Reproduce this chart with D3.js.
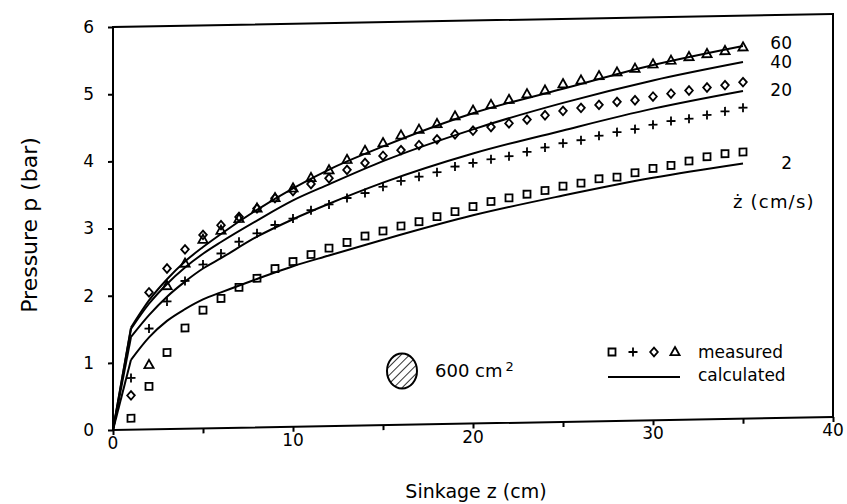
<!DOCTYPE html>
<html>
<head>
<meta charset="utf-8">
<script src="https://cdn.jsdelivr.net/npm/d3@7"></script>
<style>
  html, body { margin: 0; padding: 0; background: #fff; overflow: hidden; }
  svg { display: block; }
  text { font-family: "DejaVu Sans", sans-serif; fill: #000; }
</style>
</head>
<body>
<script>
const width = 847,
  height = 504;

// measured points, one per cm of sinkage
const sinkage = [1, 2, 3, 4, 5, 6, 7, 8, 9, 10, 11, 12, 13, 14, 15, 16, 17, 18,
  19, 20, 21, 22, 23, 24, 25, 26, 27, 28, 29, 30, 31, 32, 33, 34, 35];
const measured2 = [0.17, 0.64, 1.14, 1.50, 1.76, 1.93, 2.09, 2.22, 2.36, 2.46, 2.56, 2.65,
  2.73, 2.82, 2.89, 2.96, 3.02, 3.09, 3.16, 3.23, 3.30, 3.35, 3.40, 3.45, 3.51, 3.55,
  3.61, 3.63, 3.69, 3.75, 3.79, 3.85, 3.91, 3.95, 3.97];
const measured20 = [0.77, 1.50, 1.90, 2.20, 2.44, 2.60, 2.77, 2.89, 3.01, 3.10, 3.22, 3.30,
  3.39, 3.46, 3.55, 3.63, 3.69, 3.75, 3.83, 3.88, 3.93, 3.97, 4.03, 4.09, 4.15, 4.19,
  4.25, 4.30, 4.34, 4.40, 4.45, 4.48, 4.53, 4.58, 4.63];
const measured40 = [0.51, 2.04, 2.39, 2.67, 2.88, 3.02, 3.14, 3.26, 3.41, 3.51, 3.61, 3.69,
  3.81, 3.91, 4.01, 4.09, 4.16, 4.24, 4.31, 4.36, 4.41, 4.46, 4.51, 4.57, 4.63, 4.67,
  4.71, 4.75, 4.77, 4.82, 4.86, 4.90, 4.94, 4.97, 5.01];
const measured60 = [null, 0.96, 2.13, 2.46, 2.81, 2.94, 3.11, 3.26, 3.41, 3.55, 3.70, 3.81,
  3.96, 4.09, 4.20, 4.31, 4.39, 4.47, 4.58, 4.66, 4.74, 4.81, 4.89, 4.94, 5.03, 5.08,
  5.14, 5.19, 5.24, 5.30, 5.35, 5.40, 5.44, 5.48, 5.53];

// calculated curves
const calcSinkage = [0, 1, 2, 3, 4, 5, 6, 8, 10, 12, 15, 20, 25, 30, 35];
const calc2 = [0, 1.04, 1.37, 1.61, 1.78, 1.92, 2.02, 2.21, 2.39, 2.54, 2.76, 3.10, 3.37, 3.61, 3.80];
const calc20 = [0, 1.38, 1.70, 1.97, 2.19, 2.38, 2.53, 2.84, 3.09, 3.31, 3.61, 4.02, 4.34, 4.64, 4.88];
const calc40 = [0, 1.50, 1.87, 2.16, 2.40, 2.60, 2.77, 3.08, 3.37, 3.60, 3.93, 4.38, 4.75, 5.06, 5.31];
const calc60 = [0, 1.52, 1.92, 2.23, 2.49, 2.70, 2.89, 3.24, 3.55, 3.82, 4.15, 4.62, 4.96, 5.29, 5.55];

const speedLabels = ["2", "20", "40", "60"];
const markerNames = ["square", "plus", "diamond", "triangle"];
const xTicks = [0, 5, 10, 15, 20, 25, 30, 35, 40];
const xTickLabels = [0, 10, 20, 30, 40];
const yTicks = [0, 1, 2, 3, 4, 5, 6];

const margin = {top: 27, right: 14, bottom: 74, left: 113},
  innerWidth = width - margin.left - margin.right,
  innerHeight = height - margin.top - margin.bottom;

const x = d3.scaleLinear().domain([0, 40]).range([0, innerWidth]);
const y = d3.scaleLinear().domain([0, 6]).range([innerHeight, 0]);

// the scanned figure is slightly sheared; vertical lines stay vertical
const skewDeg = -1.03,
  shear = px => Math.tan(skewDeg * Math.PI / 180) * px;

const markerPath = {
  square: "M-3.5,-3.5H3.5V3.5H-3.5Z",
  plus: "M-4.5,0H4.5M0,-4.5V4.5",
  diamond: "M0,-4.3L3.8,0L0,4.3L-3.8,0Z",
  triangle: "M0,-5L4.6,3.2H-4.6Z"
};

const svgRoot = d3.select("body").append("svg")
  .attr("width", width)
  .attr("height", height)
  .attr("xmlns", "http://www.w3.org/2000/svg");

svgRoot.append("rect").attr("width", width).attr("height", height).attr("fill", "#fff");

const svg = svgRoot.append("g")
  .attr("transform", "translate(" + margin.left + "," + margin.top + ") skewY(" + skewDeg + ")");

svg.append("rect")
  .attr("width", innerWidth)
  .attr("height", innerHeight)
  .attr("fill", "none")
  .attr("stroke", "#000")
  .attr("stroke-width", 2);

const xAxis = svg.append("g")
  .attr("transform", "translate(0," + innerHeight + ")")
  .call(d3.axisBottom(x).tickValues(xTicks).tickSize(5).tickFormat(""));

const yAxis = svg.append("g")
  .call(d3.axisLeft(y).tickValues(yTicks).tickSize(5).tickFormat(""));

[xAxis, yAxis].forEach(a => {
  a.select(".domain").remove();
  a.selectAll("text").remove();
  a.selectAll("line").attr("stroke", "#000").attr("stroke-width", 2);
});

// tick labels kept upright, placed on the sheared axes
svgRoot.append("g").selectAll("text")
  .data(xTickLabels)
  .enter().append("text")
  .attr("x", d => margin.left + x(d))
  .attr("y", d => margin.top + innerHeight + shear(x(d)) + 19)
  .attr("text-anchor", "middle")
  .attr("font-size", 17)
  .text(d => d);

svgRoot.append("g").selectAll("text")
  .data(yTicks)
  .enter().append("text")
  .attr("x", margin.left - 19)
  .attr("y", d => margin.top + y(d))
  .attr("dy", "0.35em")
  .attr("text-anchor", "end")
  .attr("font-size", 17)
  .text(d => d);

const calcSeries = [calc2, calc20, calc40, calc60];
const measSeries = [measured2, measured20, measured40, measured60];

// straight rise to the first knee, then a smooth curve
const riseLine = d3.line()
  .x(d => x(d[0]))
  .y(d => y(d[1]));
const curveLine = d3.line()
  .x(d => x(d[0]))
  .y(d => y(d[1]))
  .curve(d3.curveMonotoneX);

calcSeries.forEach(vals => {
  const pts = vals.map((v, i) => [calcSinkage[i], v]);
  svg.append("path")
    .attr("d", riseLine(pts.slice(0, 2)))
    .attr("fill", "none").attr("stroke", "#000").attr("stroke-width", 2);
  svg.append("path")
    .attr("d", curveLine(pts.slice(1)))
    .attr("fill", "none").attr("stroke", "#000").attr("stroke-width", 2);
});

measSeries.forEach((vals, s) => {
  const pts = vals.map((v, i) => ({x: sinkage[i], y: v})).filter(p => p.y !== null);
  svg.selectAll(".m" + s)
    .data(pts)
    .enter().append("path")
    .attr("class", "m" + s)
    .attr("transform", d => "translate(" + x(d.x) + "," + y(d.y) + ")")
    .attr("d", markerPath[markerNames[s]])
    .attr("fill", "none")
    .attr("stroke", "#000")
    .attr("stroke-width", 1.8);
});

// speed labels at the end of each calculated curve
const labelShift = [0, 0, 1, -2];
const labelX = x(35) + 49;
svgRoot.append("g").selectAll("text")
  .data(calcSeries)
  .enter().append("text")
  .attr("x", margin.left + labelX)
  .attr("y", (d, i) => margin.top + y(d[d.length - 1]) + shear(labelX) + labelShift[i])
  .attr("dy", "0.35em")
  .attr("text-anchor", "end")
  .attr("font-size", 17)
  .text((d, i) => speedLabels[i]);

svgRoot.append("text")
  .attr("x", 733).attr("y", 202).attr("dy", "0.35em")
  .attr("font-size", 18)
  .attr("letter-spacing", 1.2)
  .text("ż (cm/s)");

// legend
const legend = svgRoot.append("g");
markerNames.forEach((m, i) => {
  legend.append("path")
    .attr("transform", "translate(" + (612 + i * 21) + ",352)")
    .attr("d", markerPath[m])
    .attr("fill", "none")
    .attr("stroke", "#000")
    .attr("stroke-width", 1.8);
});
legend.append("text").attr("x", 698).attr("y", 352).attr("dy", "0.35em")
  .attr("font-size", 17).text("measured");
legend.append("line").attr("x1", 608).attr("x2", 680).attr("y1", 377).attr("y2", 377)
  .attr("stroke", "#000").attr("stroke-width", 2);
legend.append("text").attr("x", 698).attr("y", 375).attr("dy", "0.35em")
  .attr("font-size", 17).text("calculated");

// plate area symbol
const defs = svgRoot.append("defs");
defs.append("pattern")
  .attr("id", "hatch")
  .attr("patternUnits", "userSpaceOnUse")
  .attr("width", 6).attr("height", 6)
  .attr("patternTransform", "rotate(45)")
  .append("line")
  .attr("x1", 0).attr("y1", 0).attr("x2", 0).attr("y2", 6)
  .attr("stroke", "#000").attr("stroke-width", 1.6);

legend.append("ellipse")
  .attr("cx", 402).attr("cy", 371).attr("rx", 15).attr("ry", 17.5)
  .attr("fill", "url(#hatch)")
  .attr("stroke", "#000").attr("stroke-width", 2);
const area = legend.append("text").attr("x", 435).attr("y", 371).attr("dy", "0.35em")
  .attr("font-size", 18);
area.append("tspan").text("600 cm");
area.append("tspan").attr("dy", "-0.45em").attr("dx", 3).attr("font-size", 13).text("2");

// axis titles
svgRoot.append("text")
  .attr("x", 476).attr("y", 491).attr("dy", "0.35em")
  .attr("text-anchor", "middle")
  .attr("font-size", 19)
  .text("Sinkage z (cm)");

svgRoot.append("text")
  .attr("transform", "translate(29,225) rotate(-90)")
  .attr("dy", "0.35em")
  .attr("text-anchor", "middle")
  .attr("font-size", 22)
  .text("Pressure p (bar)");
</script>
</body>
</html>
